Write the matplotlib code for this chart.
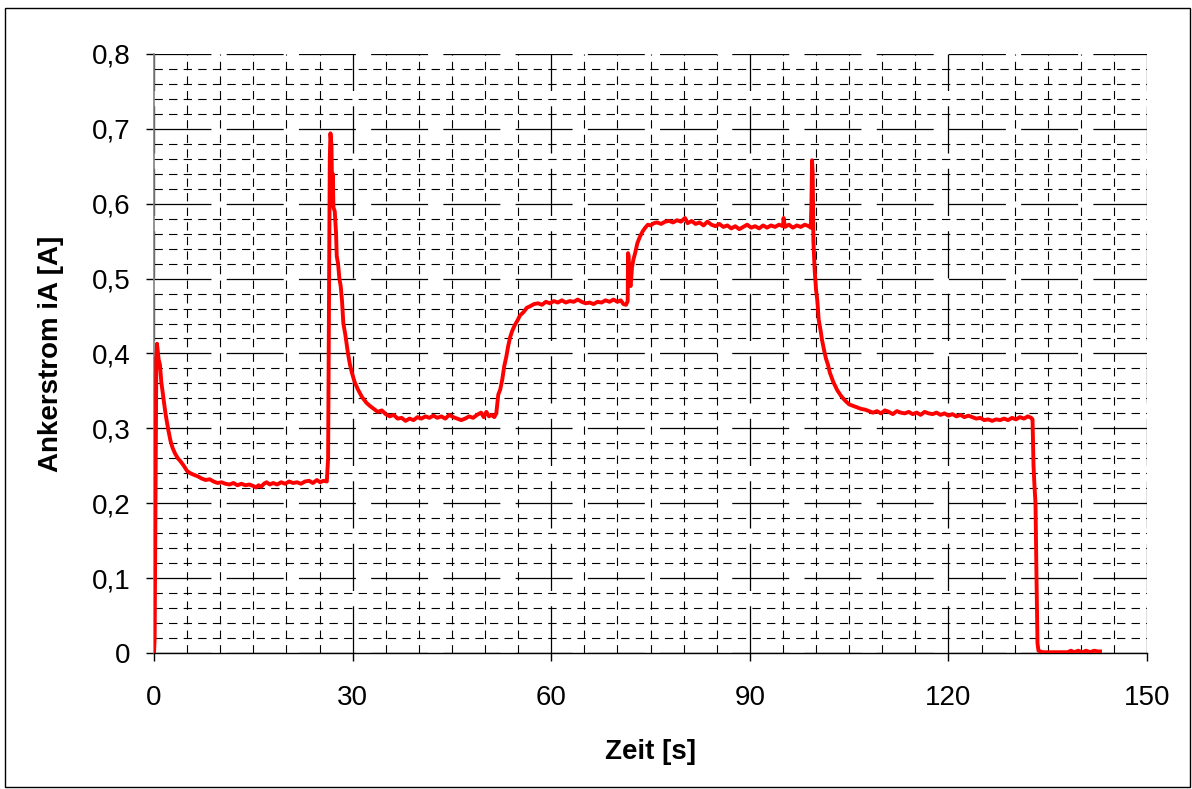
import numpy as np
import matplotlib
matplotlib.use("Agg")
import matplotlib.pyplot as plt
from matplotlib.patches import Rectangle

plt.rcParams['font.family'] = ['Liberation Sans', 'DejaVu Sans']
plt.rcParams['lines.scale_dashes'] = False

# Ankerstrom-Messung: Zeit [s] und Strom [A]
zeit = [
    0.0, 0.1, 0.25, 0.35, 0.45, 0.55, 0.7, 0.9, 1.1, 1.4, 1.7, 1.9, 2.2, 2.5, 2.8, 3.2, 3.6, 4.0, 4.5, 5.0,
    5.5, 6.0, 6.6, 7.2, 7.8, 8.4, 9.0, 9.6, 10.2, 10.8, 11.4, 12.0, 12.6, 13.2, 13.8, 14.4, 15.0, 15.4, 15.8, 16.2,
    16.6, 17.0, 17.5, 18.0, 18.6, 19.2, 19.8, 20.4, 21.0, 21.6, 22.2, 22.8, 23.4, 24.0, 24.6, 25.1, 25.6, 26.1,
    26.3, 26.45, 26.55, 26.65, 26.8, 26.9, 27.0, 27.1, 27.3, 27.5, 27.6, 27.8, 28.0, 28.2, 28.4, 28.6, 28.9, 29.3,
    29.6, 29.9, 30.3, 30.8, 31.4, 32.1, 32.6, 33.2, 33.8, 34.4, 35.0, 35.6, 36.2, 36.8, 37.4, 38.0, 38.6, 39.2,
    39.8, 40.4, 41.0, 41.6, 42.2, 42.8, 43.4, 44.0, 44.6, 45.2, 45.8, 46.4, 47.0, 47.6, 48.2, 48.8, 49.4, 49.8,
    50.2, 50.6, 51.0, 51.4, 51.7,
    52.0, 52.3, 52.6, 52.9, 53.2, 53.5, 53.8, 54.1, 54.5, 54.9, 55.3, 55.8, 56.3, 56.8, 57.4, 58.0, 58.6, 59.2,
    59.8, 60.4, 61.0, 61.6, 62.2, 62.8, 63.4, 64.0, 64.6, 65.2, 65.8, 66.4, 67.0, 67.6, 68.2, 68.8, 69.4, 70.0,
    70.5, 70.9, 71.3, 71.55, 71.6, 71.7, 71.8, 72.0, 72.2, 72.4, 72.7, 73.0, 73.4, 73.8, 74.2, 74.6, 75.0, 75.5,
    76.0, 76.6, 77.2, 77.8, 78.4, 79.0, 79.6, 80.2, 80.6, 81.2, 81.8, 82.4, 83.0, 83.6, 84.2, 84.8, 85.4, 86.0,
    86.6, 87.2, 87.8, 88.4, 89.0, 89.6, 90.2, 90.8, 91.4, 92.0, 92.6, 93.2, 93.8, 94.4, 95.0, 95.1, 95.3, 95.9,
    96.5, 97.1, 97.7, 98.3, 98.9, 99.2,
    99.3, 99.4, 99.5, 99.6, 99.8, 100.0, 100.2, 100.4, 100.7, 100.9, 101.2, 101.5, 101.8, 102.1, 102.6, 103.2,
    103.8, 104.4, 105.0, 105.6, 106.2, 106.8, 107.4, 108.0, 108.6, 109.2, 109.8, 110.4, 111.0, 111.6, 112.2,
    112.8, 113.4, 114.0, 114.6, 115.2, 115.8, 116.4, 117.0, 117.6, 118.2, 118.8, 119.4, 120.0, 120.6, 121.2,
    121.8, 122.4, 123.0, 123.6, 124.2, 124.8, 125.4, 126.0, 126.6, 127.2, 127.8, 128.4, 129.0, 129.6, 130.2,
    130.8, 131.4, 132.0, 132.5, 132.7, 132.85, 133.0, 133.15, 133.3, 133.45, 133.6, 134.2, 135.0, 136.0, 137.0,
    138.0, 138.5, 139.0, 139.6, 140.2, 140.8, 141.4, 142.0, 142.6, 142.9,
]
strom = [
    0.000, 0.020, 0.250, 0.390, 0.413, 0.405, 0.392, 0.385, 0.362, 0.342, 0.322, 0.311, 0.296, 0.283, 0.274,
    0.266, 0.260, 0.256, 0.250, 0.243, 0.240, 0.238, 0.236, 0.233, 0.231, 0.232, 0.229, 0.227, 0.228, 0.226,
    0.225, 0.227, 0.224, 0.226, 0.224, 0.225, 0.223, 0.221, 0.224, 0.222, 0.226, 0.228, 0.225, 0.227, 0.225,
    0.228, 0.226, 0.229, 0.227, 0.228, 0.226, 0.229, 0.230, 0.227, 0.231, 0.228, 0.230, 0.229,
    0.260, 0.500, 0.660, 0.694, 0.680, 0.620, 0.640, 0.595, 0.590, 0.560, 0.530, 0.520, 0.500, 0.490, 0.470,
    0.440, 0.425, 0.400, 0.385, 0.374, 0.362, 0.352, 0.342, 0.334, 0.330, 0.326, 0.322, 0.324, 0.319, 0.316,
    0.318, 0.313, 0.314, 0.310, 0.313, 0.311, 0.315, 0.313, 0.316, 0.314, 0.317, 0.314, 0.316, 0.313, 0.318,
    0.315, 0.313, 0.311, 0.313, 0.316, 0.314, 0.318, 0.321, 0.315, 0.322, 0.316, 0.318, 0.315, 0.320,
    0.345, 0.352, 0.365, 0.383, 0.395, 0.410, 0.422, 0.430, 0.438, 0.444, 0.451, 0.455, 0.461, 0.463, 0.466,
    0.467, 0.465, 0.469, 0.467, 0.470, 0.468, 0.471, 0.468, 0.470, 0.469, 0.472, 0.469, 0.467, 0.468, 0.466,
    0.469, 0.468, 0.471, 0.469, 0.472, 0.469, 0.471, 0.466, 0.465, 0.470, 0.534, 0.530, 0.495, 0.490, 0.515,
    0.525, 0.535, 0.547, 0.556, 0.563, 0.568, 0.572, 0.571, 0.574, 0.575, 0.573, 0.576, 0.577, 0.575, 0.578,
    0.576, 0.581, 0.574, 0.577, 0.573, 0.575, 0.571, 0.576, 0.572, 0.570, 0.573, 0.569, 0.571, 0.567, 0.570,
    0.566, 0.569, 0.572, 0.568, 0.570, 0.567, 0.571, 0.568, 0.571, 0.569, 0.572, 0.570, 0.581, 0.569, 0.572,
    0.568, 0.571, 0.569, 0.572, 0.570, 0.568,
    0.600, 0.658, 0.640, 0.550, 0.510, 0.485, 0.470, 0.445, 0.430, 0.418, 0.405, 0.393, 0.385, 0.374, 0.362,
    0.351, 0.343, 0.337, 0.332, 0.330, 0.328, 0.326, 0.325, 0.323, 0.321, 0.323, 0.320, 0.324, 0.322, 0.319,
    0.323, 0.321, 0.320, 0.322, 0.319, 0.321, 0.318, 0.322, 0.320, 0.319, 0.321, 0.318, 0.320, 0.317, 0.319,
    0.316, 0.318, 0.315, 0.317, 0.315, 0.313, 0.314, 0.311, 0.312, 0.310, 0.312, 0.311, 0.313, 0.311, 0.314,
    0.312, 0.315, 0.313, 0.316, 0.314, 0.312, 0.250, 0.222, 0.200, 0.100, 0.013, 0.003, 0.001, 0.001, 0.001,
    0.001, 0.001, 0.003, 0.001, 0.003, 0.001, 0.003, 0.001, 0.003, 0.002, 0.002,
]

x_ticks = [0, 30, 60, 90, 120, 150]
y_ticks = [0, 0.1, 0.2, 0.3, 0.4, 0.5, 0.6, 0.7, 0.8]
y_tick_labels = ["0", "0,1", "0,2", "0,3", "0,4", "0,5", "0,6", "0,7", "0,8"]

fig = plt.figure(figsize=(11.92, 7.89), dpi=100)
ax = fig.add_axes([0.1292, 0.1724, 0.8331, 0.7592])

ax.plot(zeit, strom, color="#ff0000", linewidth=2.8, zorder=3)

ax.set_xlim(0, 150)
ax.set_ylim(0, 0.8)
ax.set_xticks(x_ticks)
ax.set_xticks(np.arange(0, 151, 5), minor=True)
ax.set_yticks(y_ticks)
ax.set_yticklabels(y_tick_labels)
ax.set_yticks(np.arange(0, 0.801, 0.02), minor=True)

# gestricheltes Raster: Hauptlinien lang, Nebenlinien kurz
ax.xaxis.grid(True, which="major", color="black", linewidth=0.9, linestyle=(0, (34, 11)))
ax.yaxis.grid(True, which="major", color="black", linewidth=0.9, linestyle=(0, (41, 11)))
ax.xaxis.grid(True, which="minor", color="black", linewidth=0.8, linestyle=(0, (6, 4.5)))
ax.yaxis.grid(True, which="minor", color="black", linewidth=0.8, linestyle=(0, (6, 4.5)))
ax.set_axisbelow(True)

ax.spines["top"].set_visible(False)
ax.spines["right"].set_visible(False)
ax.spines["left"].set_color("#808080")
ax.spines["left"].set_linewidth(1.2)
ax.spines["bottom"].set_color("black")
ax.spines["bottom"].set_linewidth(1.0)

ax.tick_params(axis="both", which="major", direction="out", length=6, width=1,
               labelsize=20, color="black")
ax.tick_params(axis="x", which="major", pad=17)
ax.tick_params(axis="y", which="major", pad=11)
ax.tick_params(which="minor", length=0)

ax.set_xlabel("Zeit [s]", fontsize=20, fontweight="bold", labelpad=20)
ax.set_ylabel("Ankerstrom iA [A]", fontsize=20, fontweight="bold", labelpad=20)

fig.add_artist(Rectangle((0.0042, 0.0025), 0.9938, 0.9875, transform=fig.transFigure,
                         fill=False, edgecolor="black", linewidth=1.0))

fig.savefig("out.png", dpi=100)
